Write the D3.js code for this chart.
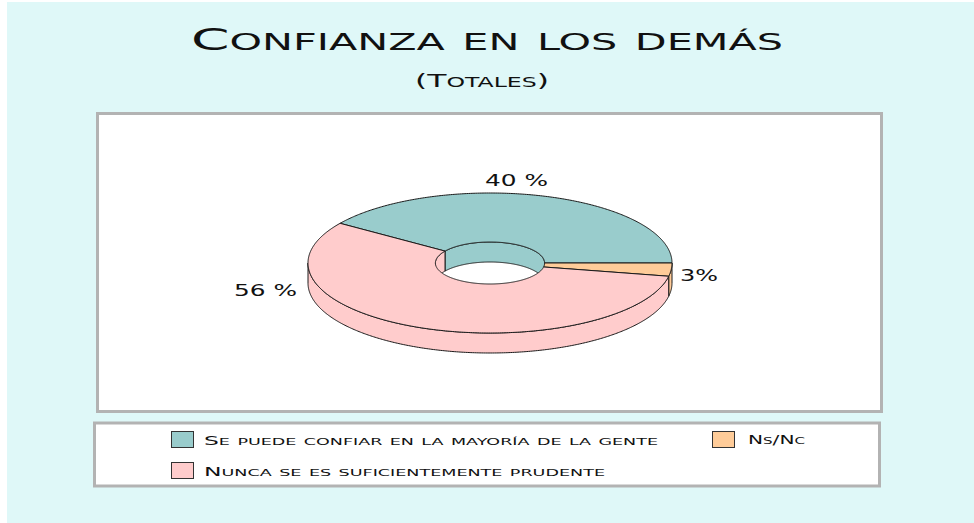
<!DOCTYPE html>
<html>
<head>
<meta charset="utf-8">
<script src="https://cdn.jsdelivr.net/npm/d3@7"></script>
<style>
  html, body { margin: 0; padding: 0; background: #ffffff; }
  svg { display: block; }
  text { font-family: "DejaVu Sans", sans-serif; fill: #111; }
</style>
</head>
<body>
<svg id="chart" width="974" height="523"></svg>
<script>
// ---- data ----
const title = "Confianza en los demás";
const subtitle = "(Totales)";
const categories = ["Se puede confiar en la mayoría de la gente", "Ns/Nc", "Nunca se es suficientemente prudente"];
const values = [40, 3, 56];
const valueLabels = ["40 %", "3%", "56 %"];
const colors = ["#99cccc", "#ffcc99", "#ffcccc"];

// ---- layout ----
const W = 974, H = 523;
const svg = d3.select("#chart");

svg.append("rect").attr("x", 0).attr("y", 0).attr("width", W).attr("height", H).attr("fill", "#ffffff");
svg.append("rect").attr("x", 7).attr("y", 2).attr("width", W - 7).attr("height", H - 2).attr("fill", "#dff8f8");

// plot area box
svg.append("rect").attr("x", 97.5).attr("y", 113.5).attr("width", 784).attr("height", 298)
  .attr("fill", "#ffffff").attr("stroke", "#b3b3b3").attr("stroke-width", 3);
// legend box
svg.append("rect").attr("x", 94.5).attr("y", 423).attr("width", 785).attr("height", 63)
  .attr("fill", "#ffffff").attr("stroke", "#b3b3b3").attr("stroke-width", 3);

// small caps helper
function smallCaps(sel, str, size, ratio) {
  const runs = [];
  for (const ch of str) {
    const lower = ch !== ch.toUpperCase();
    const s = lower ? size * ratio : size;
    const c = ch.toUpperCase();
    if (runs.length && runs[runs.length - 1].s === s) runs[runs.length - 1].t += c;
    else runs.push({ s: s, t: c });
  }
  runs.forEach(r => sel.append("tspan").attr("font-size", r.s).text(r.t));
  return sel;
}

// titles
smallCaps(svg.append("text").attr("x", 191).attr("y", 49.5)
  .attr("textLength", 592).attr("lengthAdjust", "spacingAndGlyphs"), title, 29.5, 0.75);
smallCaps(svg.append("text").attr("x", 415).attr("y", 87)
  .attr("textLength", 134).attr("lengthAdjust", "spacingAndGlyphs"), subtitle, 18, 0.75);

// ---- 3D donut ----
const cx = 490, cy = 263, rx = 182, ry = 70, depth = 20, holeRatio = 0.30;
const irx = rx * holeRatio, iry = ry * holeRatio;
const total = d3.sum(values);
const start = -2 * Math.PI * values[0] / total;
const pie = d3.pie().sort(null).value(d => d).startAngle(start).endAngle(start + 2 * Math.PI);
const arcs = pie(values);

const line = d3.line();
function pts(a0, a1, rX, rY, dy) {
  const n = Math.max(2, Math.ceil(Math.abs(a1 - a0) / 0.01));
  const out = [];
  for (let i = 0; i <= n; i++) {
    const t = a0 + (a1 - a0) * i / n;
    out.push([cx + rX * Math.cos(t), cy + rY * Math.sin(t) + dy]);
  }
  return out;
}
function wall(a0, a1, rX, rY) {
  return line(pts(a0, a1, rX, rY, 0).concat(pts(a1, a0, rX, rY, depth))) + "Z";
}
function intersect(a0, a1, lo, hi) {
  const res = [];
  for (const k of [-2, 0, 2]) {
    const s = Math.max(a0, lo + k * Math.PI), e = Math.min(a1, hi + k * Math.PI);
    if (e > s) res.push([s, e]);
  }
  return res;
}

const stroke = "#1a1a1a", sw = 1;
const g = svg.append("g");

// outer front walls
arcs.forEach((a, i) => {
  intersect(a.startAngle, a.endAngle, 0, Math.PI).forEach(([s, e]) => {
    g.append("path").attr("d", wall(s, e, rx, ry)).attr("fill", colors[i])
      .attr("stroke", stroke).attr("stroke-width", sw).attr("stroke-linejoin", "round");
  });
});
// inner back walls (seen through the hole)
arcs.forEach((a, i) => {
  intersect(a.startAngle, a.endAngle, Math.PI, 2 * Math.PI).forEach(([s, e]) => {
    g.append("path").attr("d", wall(s, e, irx, iry)).attr("fill", colors[i])
      .attr("stroke", stroke).attr("stroke-width", sw).attr("stroke-linejoin", "round");
  });
});
// top faces
arcs.forEach((a, i) => {
  const p = pts(a.startAngle, a.endAngle, rx, ry, 0).concat(pts(a.endAngle, a.startAngle, irx, iry, 0));
  g.append("path").attr("d", line(p) + "Z").attr("fill", colors[i])
    .attr("stroke", stroke).attr("stroke-width", sw).attr("stroke-linejoin", "round");
});

// data labels
const labelPlace = [
  { x: cx - 5, y: cy - ry - 7, len: 63 },          // top
  { x: cx + rx + 8, y: cy + 18, len: 38 },         // right
  { x: cx - rx - 74, y: cy + 33, len: 63 }          // left
];
valueLabels.forEach((t, i) => {
  svg.append("text").attr("x", labelPlace[i].x).attr("y", labelPlace[i].y)
    .attr("font-size", 15.5).attr("textLength", labelPlace[i].len)
    .attr("lengthAdjust", "spacingAndGlyphs").text(t);
});

// ---- legend ----
const legX = d3.scaleOrdinal().domain([0, 1]).range([171, 712]);
const legY = d3.scaleOrdinal().domain([0, 1]).range([431, 462]);
const legLen = [454, 57, 401];
categories.forEach((c, i) => {
  const col = i % 2, row = Math.floor(i / 2);
  const x = legX(col), y = legY(row);
  svg.append("rect").attr("x", x + 0.5).attr("y", y + 0.5).attr("width", 22).attr("height", 16)
    .attr("fill", colors[i]).attr("stroke", "#333").attr("stroke-width", 1);
  smallCaps(svg.append("text").attr("x", x + (col === 0 ? 33 : 36)).attr("y", y + (col === 0 ? 14 : 12.5))
    .attr("textLength", legLen[i]).attr("lengthAdjust", "spacingAndGlyphs"), c, 11.5, 0.75);
});
</script>
</body>
</html>
